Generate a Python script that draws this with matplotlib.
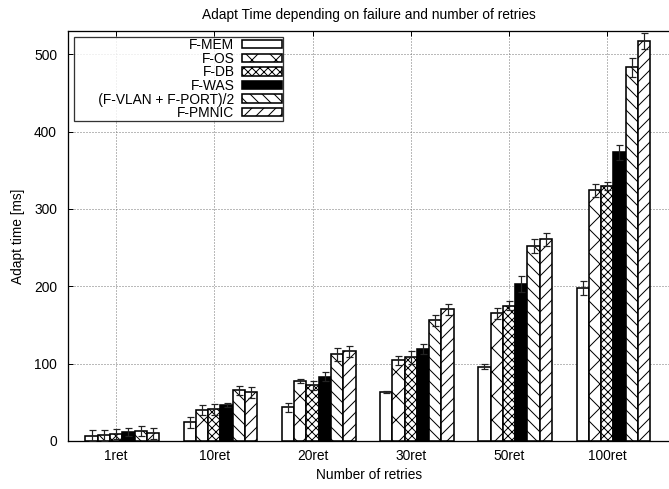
import numpy as np
import matplotlib
matplotlib.use("Agg")
import matplotlib.pyplot as plt

plt.rcParams['font.family'] = ['Liberation Sans', 'DejaVu Sans']
plt.rcParams['hatch.linewidth'] = 1.0

groups = ["1ret", "10ret", "20ret", "30ret", "50ret", "100ret"]
series = ["F-MEM", "F-OS", "F-DB", "F-WAS", "(F-VLAN + F-PORT)/2", "F-PMNIC"]

# mean adapt time [ms] per series, one value per group
mem   = [7, 24, 43.5, 63.5, 96, 198]
os_   = [7.5, 40, 77.5, 104.5, 165, 324]
db    = [9, 41, 72, 108, 175, 330]
was   = [11.5, 46.5, 83, 119, 203, 373]
vlan  = [13, 65.5, 112, 156, 251.5, 483]
pmnic = [10, 63, 116, 170, 260.5, 517]

# error (+/-) per series
mem_err   = [7, 7.5, 6, 1, 3, 9]
os_err    = [7, 6, 2.5, 6, 7, 8]
db_err    = [7, 7, 6, 8, 6, 5]
was_err   = [5, 3, 6, 6, 10, 10]
vlan_err  = [6, 6, 8, 7, 9, 12]
pmnic_err = [7, 7, 7, 7, 8, 10]

values = [mem, os_, db, was, vlan, pmnic]
errors = [mem_err, os_err, db_err, was_err, vlan_err, pmnic_err]
fills = ['white', 'white', 'white', 'black', 'white', 'white']
hatches = [None, 'x', 'xxx', None, '\\\\', '//']

# dpi 72 so the hatch cell is 72 px (matches the reference pattern size)
fig = plt.figure(figsize=(669 / 72, 489 / 72), dpi=72)
ax = fig.add_axes([0.1016, 0.0982, 0.9, 0.8384])

fs = 13.8
x = np.arange(len(groups))
w = 0.125
for i in range(len(series)):
    lab = series[i]
    if i == 4:
        lab = "      " + lab  # gnuplot-style extra room at the left of the key
    ax.bar(x + (i - 2) * w, values[i], w, color=fills[i], edgecolor='black',
           hatch=hatches[i], linewidth=1.6, label=lab, zorder=3,
           yerr=errors[i], error_kw=dict(ecolor='#222222', elinewidth=1.2,
                                         capsize=3.5, capthick=1.2, zorder=4))

ax.set_xlim(-0.49, 5.64)
ax.set_ylim(0, 530)
ax.set_yticks([0, 100, 200, 300, 400, 500])
ax.set_xticks(x)
ax.set_xticklabels(groups)
ax.tick_params(direction='in', labelsize=fs, top=True, length=5, width=1.0)
ax.tick_params(axis='y', pad=11)
ax.tick_params(axis='x', pad=8)
ax.grid(True, linestyle=(0, (1, 2)), color='#777777', linewidth=1.0, zorder=0)
for s in ax.spines.values():
    s.set_linewidth(1.3)

ax.set_title("Adapt Time depending on failure and number of retries", fontsize=fs, pad=12)
ax.set_xlabel("Number of retries", fontsize=fs, labelpad=5)
ax.set_ylabel("Adapt time [ms]", fontsize=fs, labelpad=9)

leg = ax.legend(loc='upper left', bbox_to_anchor=(0.0, 1.0), markerfirst=False,
                fontsize=fs, frameon=True, fancybox=False, edgecolor='black',
                handlelength=2.9, handleheight=0.55, labelspacing=-0.03,
                borderpad=0.05, handletextpad=0.55, borderaxespad=0.47)
leg.get_frame().set_linewidth(1.3)
for t in leg.get_texts():
    t.set_ha('right')

fig.savefig("out.png", dpi=72)
